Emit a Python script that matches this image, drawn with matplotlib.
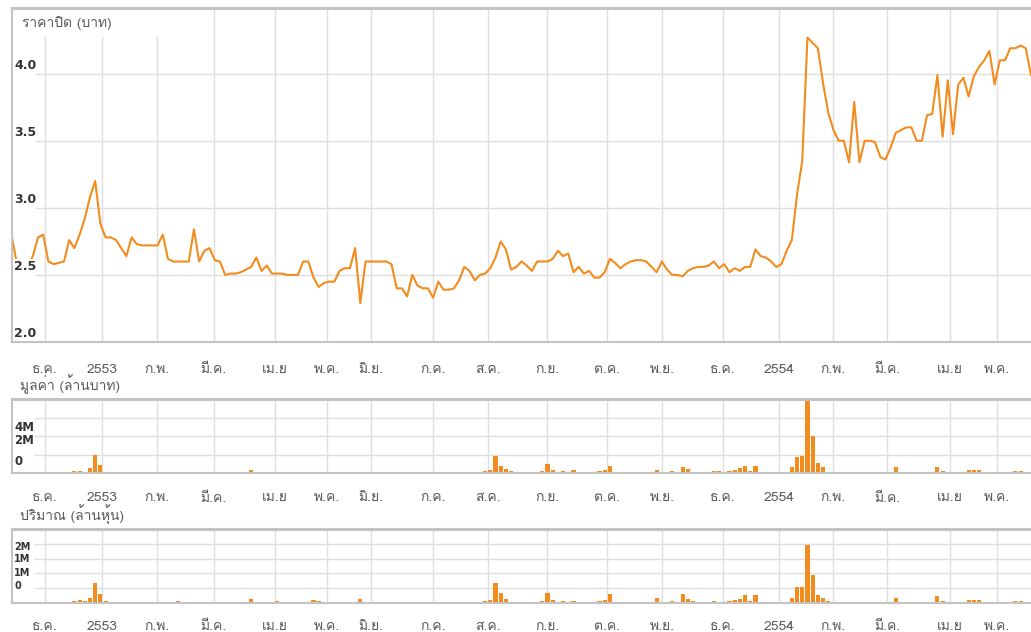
import matplotlib
matplotlib.use("Agg")
import matplotlib.pyplot as plt
from matplotlib import font_manager
from matplotlib.ft2font import FT2Font
from matplotlib.patches import Rectangle

# x axis: one slot = about two trading days
month_pos = [6.3, 17.3, 27.9, 38.8, 50.6, 60.6, 69.0, 81.0, 91.5, 102.9,
             114.4, 125.0, 136.7, 147.5, 157.9, 168.3, 180.4, 189.4]
month_labels = ['ธ.ค.', '2553', 'ก.พ.', 'มี.ค.', 'เม.ย', 'พ.ค.', 'มิ.ย.', 'ก.ค.', 'ส.ค.',
                'ก.ย.', 'ต.ค.', 'พ.ย.', 'ธ.ค.', '2554', 'ก.พ.', 'มี.ค.', 'เม.ย', 'พ.ค.']

# closing price (baht)
price = [2.78, 2.57, 2.56, 2.56, 2.64, 2.78, 2.80, 2.60, 2.58, 2.59,
         2.60, 2.76, 2.70, 2.80, 2.92, 3.08, 3.20, 2.88, 2.78, 2.78,
         2.76, 2.70, 2.64, 2.78, 2.73, 2.72, 2.72, 2.72, 2.72, 2.80,
         2.62, 2.60, 2.60, 2.60, 2.60, 2.84, 2.60, 2.68, 2.70, 2.61,
         2.60, 2.50, 2.51, 2.51, 2.52, 2.54, 2.56, 2.63, 2.53, 2.57,
         2.51, 2.51, 2.51, 2.50, 2.50, 2.50, 2.60, 2.60, 2.48, 2.41,
         2.44, 2.45, 2.45, 2.53, 2.55, 2.55, 2.70, 2.29, 2.60, 2.60,
         2.60, 2.60, 2.60, 2.58, 2.40, 2.40, 2.34, 2.50, 2.42, 2.40,
         2.40, 2.33, 2.45, 2.39, 2.39, 2.40, 2.46, 2.56, 2.53, 2.46,
         2.50, 2.51, 2.55, 2.63, 2.75, 2.69, 2.54, 2.56, 2.60, 2.57,
         2.53, 2.60, 2.60, 2.60, 2.62, 2.68, 2.64, 2.66, 2.52, 2.56,
         2.51, 2.53, 2.48, 2.48, 2.52, 2.62, 2.59, 2.55, 2.58, 2.60,
         2.61, 2.61, 2.60, 2.56, 2.52, 2.60, 2.54, 2.50, 2.50, 2.49,
         2.53, 2.55, 2.56, 2.56, 2.57, 2.60, 2.55, 2.58, 2.52, 2.55,
         2.53, 2.56, 2.56, 2.69, 2.64, 2.63, 2.60, 2.56, 2.58, 2.68,
         2.76, 3.10, 3.35, 4.27, 4.23, 4.19, 3.93, 3.71, 3.58, 3.50,
         3.50, 3.34, 3.79, 3.34, 3.50, 3.50, 3.49, 3.38, 3.36, 3.45,
         3.56, 3.58, 3.60, 3.60, 3.50, 3.50, 3.69, 3.70, 3.99, 3.53,
         3.95, 3.55, 3.92, 3.97, 3.83, 3.98, 4.05, 4.10, 4.17, 3.92,
         4.10, 4.10, 4.19, 4.19, 4.21, 4.19, 3.99]

# traded value (grid units)
value = [0, 0, 0, 0, 0.04, 0, 0, 0, 0, 0,
         0, 0, 0.10, 0.12, 0.05, 0.25, 1.0, 0.45, 0.08, 0.05,
         0.05, 0, 0.04, 0, 0.05, 0.05, 0, 0, 0.05, 0,
         0.05, 0, 0.05, 0, 0.05, 0.05, 0.05, 0.04, 0, 0,
         0, 0, 0, 0.05, 0, 0, 0.15, 0, 0, 0,
         0, 0.05, 0, 0, 0, 0, 0, 0, 0.08, 0.08,
         0, 0, 0.06, 0, 0, 0, 0, 0.05, 0, 0,
         0, 0, 0, 0, 0, 0, 0, 0, 0, 0,
         0, 0, 0, 0, 0, 0.04, 0.05, 0, 0.05, 0.06,
         0.05, 0.10, 0.15, 0.90, 0.40, 0.20, 0.10, 0.05, 0, 0.05,
         0, 0.05, 0.10, 0.50, 0.15, 0.05, 0.10, 0.05, 0.15, 0.05,
         0.05, 0.05, 0.08, 0.10, 0.15, 0.40, 0, 0, 0, 0,
         0, 0, 0.05, 0, 0.15, 0, 0.05, 0.10, 0.05, 0.35,
         0.20, 0.08, 0.05, 0.05, 0.08, 0.10, 0.10, 0.05, 0.10, 0.15,
         0.25, 0.40, 0.10, 0.40, 0, 0, 0, 0, 0.03, 0.08,
         0.30, 0.87, 0.90, 4.0, 2.0, 0.55, 0.30, 0.05, 0.05, 0,
         0.03, 0, 0, 0, 0, 0, 0, 0, 0, 0,
         0.30, 0.05, 0, 0, 0, 0, 0, 0, 0.35, 0.10,
         0, 0.03, 0.05, 0.05, 0.15, 0.15, 0.15, 0.05, 0.05, 0,
         0.03, 0, 0.05, 0.10, 0.10, 0.05, 0]

# traded volume (grid units)
volume = [0, 0, 0, 0, 0.08, 0, 0, 0.08, 0.06, 0,
          0, 0.06, 0.15, 0.20, 0.12, 0.35, 1.36, 0.60, 0.15, 0.05,
          0.08, 0.05, 0, 0.10, 0.10, 0.05, 0, 0, 0.06, 0.05,
          0.10, 0, 0.12, 0.05, 0.10, 0.10, 0.08, 0.05, 0, 0,
          0, 0, 0.05, 0.10, 0.05, 0.10, 0.30, 0.10, 0.05, 0,
          0, 0.15, 0.10, 0.05, 0.10, 0, 0, 0, 0.20, 0.15,
          0.05, 0.08, 0.10, 0, 0, 0, 0, 0.30, 0, 0,
          0, 0, 0, 0, 0, 0.05, 0, 0.05, 0.05, 0,
          0, 0.08, 0, 0.05, 0, 0.05, 0.05, 0, 0.08, 0.10,
          0.10, 0.15, 0.20, 1.36, 0.65, 0.30, 0.10, 0.08, 0.05, 0.05,
          0.05, 0.10, 0.15, 0.70, 0.20, 0.10, 0.15, 0.10, 0.15, 0.10,
          0.10, 0.10, 0.10, 0.15, 0.20, 0.60, 0.05, 0, 0, 0,
          0.05, 0, 0.05, 0, 0.35, 0, 0.10, 0.15, 0.10, 0.60,
          0.30, 0.15, 0.10, 0.10, 0.10, 0.15, 0.10, 0.10, 0.15, 0.20,
          0.30, 0.55, 0.15, 0.55, 0, 0.05, 0.05, 0, 0.05, 0.10,
          0.35, 1.10, 1.10, 3.95, 1.90, 0.55, 0.35, 0.15, 0.05, 0.05,
          0, 0.05, 0, 0, 0, 0, 0, 0, 0.05, 0.05,
          0.35, 0.05, 0, 0, 0, 0, 0.05, 0.10, 0.45, 0.15,
          0.05, 0.05, 0.08, 0.10, 0.20, 0.20, 0.20, 0.10, 0.10, 0.05,
          0.05, 0.05, 0.10, 0.15, 0.15, 0.10, 0.05]

price_ticks = [2.0, 2.5, 3.0, 3.5, 4.0]
value_grid = [1, 2, 3]
value_labels = ['4M', '2M', '0']
volume_grid = [1, 2, 3, 4]
volume_labels = ['2M', '1M', '1M', '0']

# find a font that has Thai glyphs
thai_font = None
for f in font_manager.fontManager.ttflist:
    try:
        if 0x0E01 in FT2Font(f.fname).get_charmap():
            thai_font = f.name
            break
    except Exception:
        pass
families = [thai_font, 'DejaVu Sans'] if thai_font else ['DejaVu Sans']
plt.rcParams['font.family'] = families

orange = '#f28c1e'
grid_col = '#dedede'
frame_col = '#c4c4c4'
label_col = '#5a5a5a'

fig = plt.figure(figsize=(10.31, 6.32), dpi=100)
W, H = 1031.0, 632.0
left = 12 / W
ax_p = fig.add_axes([left, (H - 342) / H, 1 - left, 334 / H])
ax_v = fig.add_axes([left, (H - 473) / H, 1 - left, 74 / H])
ax_q = fig.add_axes([left, (H - 603) / H, 1 - left, 74 / H])

x = list(range(len(price)))


def style(ax, pad):
    ax.set_xlim(0, 196)
    ax.set_xticks(month_pos)
    ax.set_xticklabels(month_labels)
    ax.tick_params(axis='x', length=0, pad=pad, labelsize=10, labelcolor=label_col)
    ax.set_yticks([])
    ax.grid(axis='x', color=grid_col, linewidth=1)
    ax.set_axisbelow(True)
    for s in ['top', 'left', 'bottom']:
        ax.spines[s].set_color(frame_col)
        ax.spines[s].set_linewidth(1.5)
    ax.spines['top'].set_linewidth(2.2)
    ax.spines['right'].set_visible(False)


# price panel
style(ax_p, 15.5)
ax_p.set_ylim(2.0, 4.49)
for t in price_ticks[1:]:
    ax_p.axhline(t, xmin=0.024, color=grid_col, linewidth=1, zorder=0)
ax_p.add_patch(Rectangle((0, 0.913), 0.185, 0.087, transform=ax_p.transAxes,
                         facecolor='white', edgecolor='none', zorder=1))
ax_p.plot(x, price, color=orange, linewidth=1.5, zorder=2)
for t in price_ticks:
    ax_p.annotate('%.1f' % t, xy=(0.002, t), xycoords=('axes fraction', 'data'),
                  xytext=(0, 1.5), textcoords='offset points', va='bottom', ha='left',
                  fontsize=9, fontweight='bold', color='#333333', family='DejaVu Sans',
                  bbox=dict(facecolor='white', edgecolor='none', pad=0.5), zorder=3)
ax_p.text(0.01, 0.955, 'ราคาปิด (บาท)', transform=ax_p.transAxes, fontsize=10,
          color=label_col, va='center', ha='left', zorder=3)

# value panel
style(ax_v, 14)
ax_v.set_ylim(0, 4)
for t in value_grid:
    ax_v.axhline(t, xmin=0.023, color=grid_col, linewidth=1, zorder=0)
ax_v.bar(x, value, width=0.8, color=orange, zorder=2)
for lab, yy in zip(value_labels, [0.62, 0.445, 0.15]):
    ax_v.text(0.002, yy, lab, transform=ax_v.transAxes, fontsize=8.5, fontweight='bold',
              color='#333333', va='center', ha='left', family='DejaVu Sans')
fig.text(20 / W, 1 - 384 / H, 'มูลค่า (ล้านบาท)', fontsize=10, color=label_col,
         va='center', ha='left')

# volume panel
style(ax_q, 13)
ax_q.set_ylim(0, 5)
for t in volume_grid:
    ax_q.axhline(t, xmin=0.023, color=grid_col, linewidth=1, zorder=0)
ax_q.bar(x, volume, width=0.8, color=orange, zorder=2)
for lab, yy in zip(volume_labels, [0.755, 0.595, 0.405, 0.23]):
    ax_q.text(0.002, yy, lab, transform=ax_q.transAxes, fontsize=7, fontweight='bold',
              color='#333333', va='center', ha='left', family='DejaVu Sans')
fig.text(20 / W, 1 - 515 / H, 'ปริมาณ (ล้านหุ้น)', fontsize=10, color=label_col,
         va='center', ha='left')

fig.savefig('out.png', dpi=100, facecolor='white')
